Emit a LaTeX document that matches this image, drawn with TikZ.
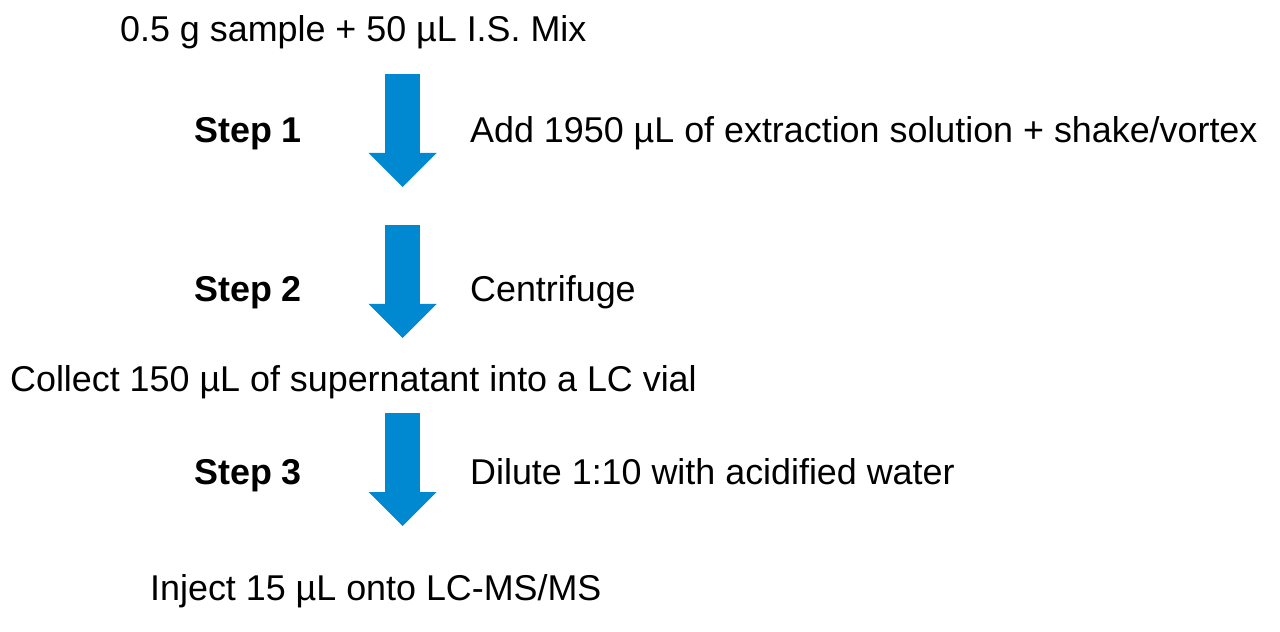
\documentclass[tikz,border=0pt]{standalone}
\usepackage{fontspec}
\setmainfont{Liberation Sans}
\usetikzlibrary{arrows.meta}
\definecolor{flowblue}{RGB}{0,136,209}
\tikzset{
  txt/.style={anchor=base west,inner sep=0pt,font=\fontsize{36}{42}\selectfont},
  steptxt/.style={txt,font=\fontsize{36}{42}\selectfont\bfseries},
  bluearrow/.style={draw=flowblue,line width=35bp,-{Triangle[width=68bp,length=34bp,line width=0pt,fill=flowblue]}}
}
\begin{document}
\begin{tikzpicture}[x=1bp,y=-1bp]
  \useasboundingbox (0,0) rectangle (1280,632);
  % texte
  \node[txt] (sample) at (120,42) {0.5 g sample + 50 µL I.S. Mix};
  \node[steptxt] (step1) at (194,143) {Step 1};
  \node[txt] (add) at (470,143) {Add 1950 µL of extraction solution + shake/vortex};
  \node[steptxt] (step2) at (194,302) {Step 2};
  \node[txt] (centri) at (470,302) {Centrifuge};
  \node[txt] (collect) at (10,391) {Collect 150 µL of supernatant into a LC vial};
  \node[steptxt] (step3) at (194,484) {Step 3};
  \node[txt] (dilute) at (470,484) {Dilute 1:10 with acidified water};
  \node[txt] (inject) at (150,600) {Inject 15 µL onto LC-MS/MS};
  % Pfeile
  \foreach \t/\n in {74/1,225/2,413/3}{
    \coordinate (top\n) at (402.5,\t);
    \coordinate (tip\n) at (402.5,\t+113);
    \draw[bluearrow] (top\n)--(tip\n);
  }
\end{tikzpicture}
\end{document}
